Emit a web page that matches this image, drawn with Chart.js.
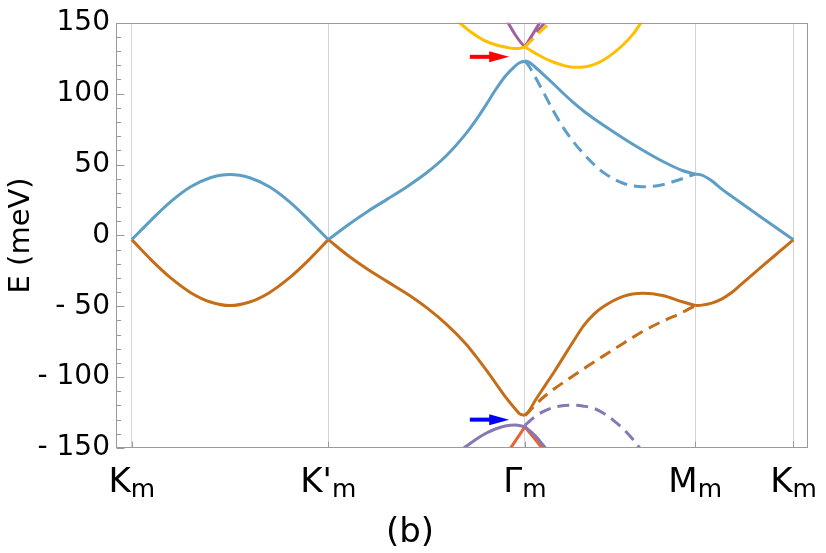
<!DOCTYPE html>
<html>
<head>
<meta charset="utf-8">
<script src="https://cdn.jsdelivr.net/npm/chart.js@4.4.1/dist/chart.umd.min.js"></script>
<style>
html,body{margin:0;padding:0;background:#fff;}
#wrap{width:826px;height:553px;position:relative;}
</style>
</head>
<body>
<div id="wrap"><canvas id="c"></canvas></div>
<script>
// ---- axis ticks / labels ----
const kTicks = [0, 1, 2, 2.866, 3.366];
const kTickNames = ["K", "K'", "Γ", "M", "K"];
const kTickSub = "m";
const eMin = -150, eMax = 150, eStep = 50, eMinorStep = 10;

// ---- Km -> K'm ----
const kKK = [0, 0.1, 0.2, 0.3, 0.4, 0.5, 0.6, 0.7, 0.8, 0.9, 1.0];
const blueKK = [-3, 11, 24, 34.3, 40.7, 43, 40.7, 34.3, 24, 11, -3];
const orangeKK = [-3, -17.4, -30.2, -40.4, -47, -49.5, -47, -40.4, -30.2, -17.4, -3];

// ---- K'm -> Γm ----
const kKG = [1.0, 1.1, 1.2, 1.3, 1.4, 1.5, 1.6, 1.7, 1.75, 1.8, 1.85, 1.9, 1.95, 1.975, 2.0];
const blueKG = [-3, 7.4, 16.9, 25.6, 34.4, 44.2, 56.2, 71.8, 81.2, 91.6, 102.6, 112.3, 119.5, 122, 123];
const orangeKG = [-3, -14.2, -23.9, -32.6, -41.2, -51, -62.6, -76.6, -85.2, -94.4, -104, -113.8, -122.3, -126, -127];

// ---- Γm -> Mm ----
const kGM = [2.0, 2.02, 2.05, 2.1, 2.15, 2.2, 2.25, 2.3, 2.35, 2.4, 2.5, 2.6, 2.7, 2.8, 2.866];
const blueGM = [123, 122.3, 119, 112.8, 106.3, 99.6, 93.3, 87.6, 82.5, 77.7, 68.6, 60.1, 52.3, 45.8, 43.3];
const blueGMdash = [123, 119.5, 112.5, 99.5, 86.5, 75, 65.5, 57.3, 50.2, 44.3, 36.8, 34.3, 35.8, 40, 43.3];
const orangeGM = [-127, -124, -117, -106.5, -96, -85, -74, -63.5, -55.7, -50.2, -43, -40.9, -42.4, -46.8, -49.5];
const orangeGMdash = [-127, -124.5, -120, -113.5, -108.2, -103.3, -98.6, -94, -89.5, -85, -76.2, -67.7, -60.6, -54.4, -49.5];

// ---- Mm -> Km ----
const kMK = [2.866, 2.9, 2.95, 3.0, 3.05, 3.1, 3.2, 3.3, 3.366];
const blueMK = [43.3, 42.5, 38.5, 32.8, 27.8, 22.8, 13, 3.3, -3];
const orangeMK = [-49.5, -49.2, -47.8, -45, -40.5, -34.6, -22.6, -10.8, -3];

// ---- upper remote bands near Γm ----
const kYellowL = [1.64, 1.668, 1.72, 1.787, 1.85, 1.905, 1.95, 1.975, 2.0];
const yellowL = [153, 150, 144, 138, 134.5, 132.7, 131.8, 132, 133];
const kYellowR = [2.0, 2.03, 2.06, 2.1, 2.15, 2.2, 2.25, 2.3, 2.35, 2.4, 2.45, 2.5, 2.55, 2.6];
const yellowR = [133, 130.5, 128, 125, 122, 119.8, 118.6, 118.8, 120.5, 123.8, 128.6, 134.5, 142, 152];
const kYellowD = [2.0, 2.04, 2.08, 2.125, 2.14];
const yellowD = [133, 138.5, 144, 150, 152.5];
const kMagL = [1.9, 1.914, 1.956, 1.98, 2.0];
const magL = [153, 150, 140.5, 136, 133];
const kMagR = [2.0, 2.04, 2.075, 2.09];
const magR = [133, 142, 150, 153.5];
const kMagD = [2.0, 2.05, 2.1, 2.115];
const magD = [133, 142, 150, 153];

// ---- lower remote bands near Γm ----
const kPurL = [1.68, 1.75, 1.8, 1.85, 1.9, 1.95, 2.0];
const purL = [-151, -144, -139.8, -136.6, -134.5, -133.8, -135];
const kPurR = [2.0, 2.03, 2.06, 2.09, 2.11];
const purR = [-135, -138.5, -142.5, -147.5, -151];
const kPurD = [2.0, 2.05, 2.1, 2.15, 2.2, 2.25, 2.3, 2.35, 2.4, 2.45, 2.5, 2.55, 2.6];
const purD = [-134, -128, -123.8, -121.2, -120, -119.8, -120.5, -122, -125.5, -130.5, -136.5, -144, -153];
const kRedL = [1.91, 1.925, 2.0];
const redL = [-153.5, -150.5, -135];
const kRedR = [2.0, 2.09, 2.1];
const redR = [-135, -150.5, -152.5];
const kRedD = [2.0, 2.05, 2.1];
const redD = [-135, -143, -151];

// ---- arrows (data units) ----
const arrowK = [1.72, 1.92];
const arrowE = [126, -130];

const C = {
  blue: '#5D9EC7', orange: '#C56E1A', yellow: '#FFBF00',
  magenta: '#A5609D', purple: '#8778B3', red: '#EB6235'
};

const pts = (ks, es) => ks.map((k, i) => ({x: k, y: es[i]}));
const ds = (ks, es, color, dashed) => ({
  data: pts(ks, es),
  borderColor: color,
  borderWidth: 3,
  borderDash: dashed ? [12, 7] : [],
  pointRadius: 0,
  fill: false,
  cubicInterpolationMode: 'monotone',
  clip: 0
});

const datasets = [
  ds(kKK, blueKK, C.blue), ds(kKK, orangeKK, C.orange),
  ds(kKG, blueKG, C.blue), ds(kKG, orangeKG, C.orange),
  ds(kGM, blueGM, C.blue), ds(kGM, blueGMdash, C.blue, true),
  ds(kGM, orangeGM, C.orange), ds(kGM, orangeGMdash, C.orange, true),
  ds(kMK, blueMK, C.blue), ds(kMK, orangeMK, C.orange),
  ds(kYellowL, yellowL, C.yellow), ds(kYellowR, yellowR, C.yellow),
  ds(kYellowD, yellowD, C.yellow, true),
  ds(kMagL, magL, C.magenta), ds(kMagR, magR, C.magenta), ds(kMagD, magD, C.magenta, true),
  ds(kPurL, purL, C.purple), ds(kPurR, purR, C.purple), ds(kPurD, purD, C.purple, true),
  ds(kRedL, redL, C.red), ds(kRedR, redR, C.red), ds(kRedD, redD, C.red, true)
];

const FONT = 'DejaVu Sans';
const FRAME = '#9a9a9a';

const decor = {
  id: 'decor',
  afterDraw(chart) {
    const {ctx, chartArea: a, scales: {x, y}} = chart;
    ctx.save();
    const L = Math.round(a.left) + 0.5, R = Math.round(a.right) - 0.5;
    const T = Math.round(a.top) + 0.5, B = Math.round(a.bottom) - 0.5;
    ctx.strokeStyle = FRAME; ctx.lineWidth = 1;
    ctx.strokeRect(L, T, R - L, B - T);
    for (let v = eMin; v <= eMax; v += eMinorStep) {
      const py = Math.round(y.getPixelForValue(v)) + 0.5;
      const len = (v % eStep === 0) ? 8 : 4.5;
      ctx.beginPath(); ctx.moveTo(L, py); ctx.lineTo(L + len, py); ctx.stroke();
    }
    kTicks.forEach(k => {
      const px = Math.round(x.getPixelForValue(k)) + 0.5;
      ctx.beginPath(); ctx.moveTo(px, B); ctx.lineTo(px, B - 6); ctx.stroke();
    });
    ctx.fillStyle = '#000';
    ctx.textBaseline = 'alphabetic';
    ctx.textAlign = 'left';
    const mainFont = `34px "${FONT}"`, subFont = `25px "${FONT}"`;
    kTicks.forEach((k, i) => {
      const px = x.getPixelForValue(k);
      ctx.font = mainFont; const w1 = ctx.measureText(kTickNames[i]).width;
      ctx.font = subFont; const w2 = ctx.measureText(kTickSub).width;
      const x0 = px - (w1 + w2) / 2;
      ctx.font = mainFont; ctx.fillText(kTickNames[i], x0, a.bottom + 44);
      ctx.font = subFont; ctx.fillText(kTickSub, x0 + w1, a.bottom + 49);
    });
    ctx.font = mainFont; ctx.textAlign = 'center';
    ctx.fillText('(b)', chart.width / 2 - 3, a.bottom + 94);
    const cols = ['#FF0000', '#0000FF'];
    arrowE.forEach((e, i) => {
      const x0 = x.getPixelForValue(arrowK[0]), x1 = x.getPixelForValue(arrowK[1]);
      const py = y.getPixelForValue(e);
      ctx.fillStyle = cols[i];
      ctx.fillRect(x0, py - 2, (x1 - 20) - x0 + 1, 4);
      ctx.beginPath(); ctx.moveTo(x1 - 20, py - 5.5); ctx.lineTo(x1, py); ctx.lineTo(x1 - 20, py + 5.5); ctx.closePath(); ctx.fill();
    });
    ctx.restore();
  }
};

new Chart(document.getElementById('c'), {
  type: 'line',
  data: {datasets},
  plugins: [decor],
  options: {
    responsive: true,
    maintainAspectRatio: false,
    animation: false,
    events: [],
    layout: {padding: {left: 0, top: 21, right: 18, bottom: 0}},
    plugins: {legend: {display: false}, tooltip: {enabled: false}},
    scales: {
      x: {
        type: 'linear', min: -0.08, max: 3.44,
        afterBuildTicks: s => { s.ticks = kTicks.map(v => ({value: v})); },
        afterFit: s => { s.height = 105; },
        ticks: {display: false},
        grid: {color: '#d4d4d4', lineWidth: 1, drawTicks: false},
        border: {display: false}
      },
      y: {
        type: 'linear', min: eMin, max: eMax,
        afterFit: s => { s.width = 116; },
        ticks: {
          stepSize: eStep, padding: 6, color: '#000',
          font: {family: FONT, size: 28},
          callback: v => v < 0 ? '- ' + Math.abs(v) : String(v)
        },
        grid: {display: false, drawTicks: false},
        border: {display: false},
        title: {display: true, text: 'E (meV)', color: '#000', font: {family: FONT, size: 29}, padding: {top: 4, bottom: 0}}
      }
    }
  }
});
</script>
</body>
</html>
